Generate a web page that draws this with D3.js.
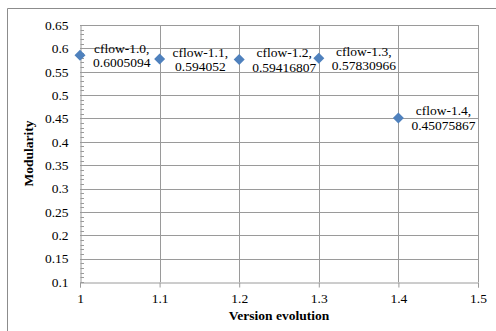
<!DOCTYPE html>
<meta charset="utf-8">
<script src="https://d3js.org/d3.v7.min.js"></script>
<style>
  body { margin: 0; background: #fff; }
  text { font-family: "Liberation Serif", "Times New Roman", serif; }
</style>
<div id="chart"></div>
<script>
// data
var versions = [1.0, 1.1, 1.2, 1.3, 1.4];
var modularity = [0.585, 0.577, 0.576, 0.579, 0.451];
var labelNames = ["cflow-1.0,", "cflow-1.1,", "cflow-1.2,", "cflow-1.3,", "cflow-1.4,"];
var labelValues = ["0.6005094", "0.594052", "0.59416807", "0.57830966", "0.45075867"];
var xTicks = [1, 1.1, 1.2, 1.3, 1.4, 1.5];
var yTicks = [0.1, 0.15, 0.2, 0.25, 0.3, 0.35, 0.4, 0.45, 0.5, 0.55, 0.6, 0.65];

var W = 496, H = 331;
var margin = {top: 25, right: 18, bottom: 49, left: 80};
var width = W - margin.left - margin.right,
    height = H - margin.top - margin.bottom;

var svg = d3.select("#chart").append("svg")
    .attr("width", W)
    .attr("height", H);

// outer chart frame (cut off at right and bottom)
svg.append("path")
    .attr("d", "M7.5," + (H + 2) + "V8.5H" + (W + 2))
    .attr("fill", "none")
    .attr("stroke", "#8c8c8c");

var g = svg.append("g")
    .attr("transform", "translate(" + margin.left + "," + margin.top + ")");

var x = d3.scaleLinear().domain([1, 1.5]).range([0, width]);
var y = d3.scaleLinear().domain([0.1, 0.65]).range([height, 0]);

var gridColor = "#9a9a9a";

// horizontal grid
g.selectAll(".hgrid")
    .data(yTicks.slice(1))
    .enter().append("line")
    .attr("x1", 0).attr("x2", width)
    .attr("y1", function(d) { return Math.round(y(d)) + 0.5; })
    .attr("y2", function(d) { return Math.round(y(d)) + 0.5; })
    .attr("stroke", gridColor);

// vertical grid
g.selectAll(".vgrid")
    .data(xTicks.slice(1))
    .enter().append("line")
    .attr("y1", 0).attr("y2", height)
    .attr("x1", function(d) { return Math.round(x(d)) + 0.5; })
    .attr("x2", function(d) { return Math.round(x(d)) + 0.5; })
    .attr("stroke", gridColor);

// y axis
var yAxis = g.append("g")
    .attr("transform", "translate(0.5,0)")
    .call(d3.axisLeft(y).tickValues(yTicks).tickSize(0).tickPadding(12)
        .tickFormat(function(d) { return d3.format("")(+d.toFixed(2)); }));
yAxis.select(".domain").attr("stroke", gridColor);
yAxis.selectAll("text")
    .style("font-size", "13.5px")
    .style("font-family", "'Liberation Serif', serif")
    .attr("fill", "#000");

// minor ticks on the y axis
var minor = d3.range(10, 66).map(function(d) { return d / 100; });
g.selectAll(".minor")
    .data(minor)
    .enter().append("line")
    .attr("x1", 0.5).attr("x2", 4)
    .attr("y1", function(d) { return Math.round(y(d)) + 0.5; })
    .attr("y2", function(d) { return Math.round(y(d)) + 0.5; })
    .attr("stroke", gridColor);

// x axis
var xAxis = g.append("g")
    .attr("transform", "translate(0," + (Math.round(height) + 0.5) + ")")
    .call(d3.axisBottom(x).tickValues(xTicks).tickSize(5).tickPadding(6)
        .tickFormat(function(d) { return d3.format("")(+d.toFixed(1)); }));
xAxis.select(".domain").attr("stroke", gridColor);
xAxis.selectAll("line").attr("stroke", gridColor);
xAxis.selectAll("text")
    .style("font-size", "13.5px")
    .style("font-family", "'Liberation Serif', serif")
    .attr("fill", "#000");

// axis titles
svg.append("text")
    .attr("x", margin.left + width / 2)
    .attr("y", 320)
    .attr("text-anchor", "middle")
    .style("font-size", "13.5px")
    .style("font-weight", "bold")
    .text("Version evolution");

svg.append("text")
    .attr("transform", "translate(33," + (margin.top + height / 2) + ") rotate(-90)")
    .attr("text-anchor", "middle")
    .style("font-size", "13.5px")
    .style("font-weight", "bold")
    .text("Modularity");

// points
var pts = versions.map(function(v, i) {
    return {x: v, y: modularity[i], name: labelNames[i], val: labelValues[i]};
});

g.selectAll(".pt")
    .data(pts)
    .enter().append("path")
    .attr("d", function(d) {
        var cx = x(d.x), cy = y(d.y), r = 5.5;
        return "M" + cx + "," + (cy - r) + "L" + (cx + r) + "," + cy +
               "L" + cx + "," + (cy + r) + "L" + (cx - r) + "," + cy + "Z";
    })
    .attr("fill", "#4f81bd");

// data labels, two lines centred in a box to the right of the point
var labels = g.selectAll(".lbl")
    .data(pts)
    .enter().append("text")
    .attr("text-anchor", "middle")
    .style("font-size", "13.5px")
    .attr("fill", "#000");

labels.each(function(d) {
    var t = d3.select(this);
    var l1 = t.append("tspan").text(d.name);
    var l2 = t.append("tspan").text(d.val);
    var w = Math.max(l1.node().getComputedTextLength(), l2.node().getComputedTextLength());
    var cx = x(d.x) + 13 + w / 2;
    var cy = y(d.y);
    l1.attr("x", cx).attr("y", cy - 2.5);
    l2.attr("x", cx).attr("y", cy + 12);
});
</script>
